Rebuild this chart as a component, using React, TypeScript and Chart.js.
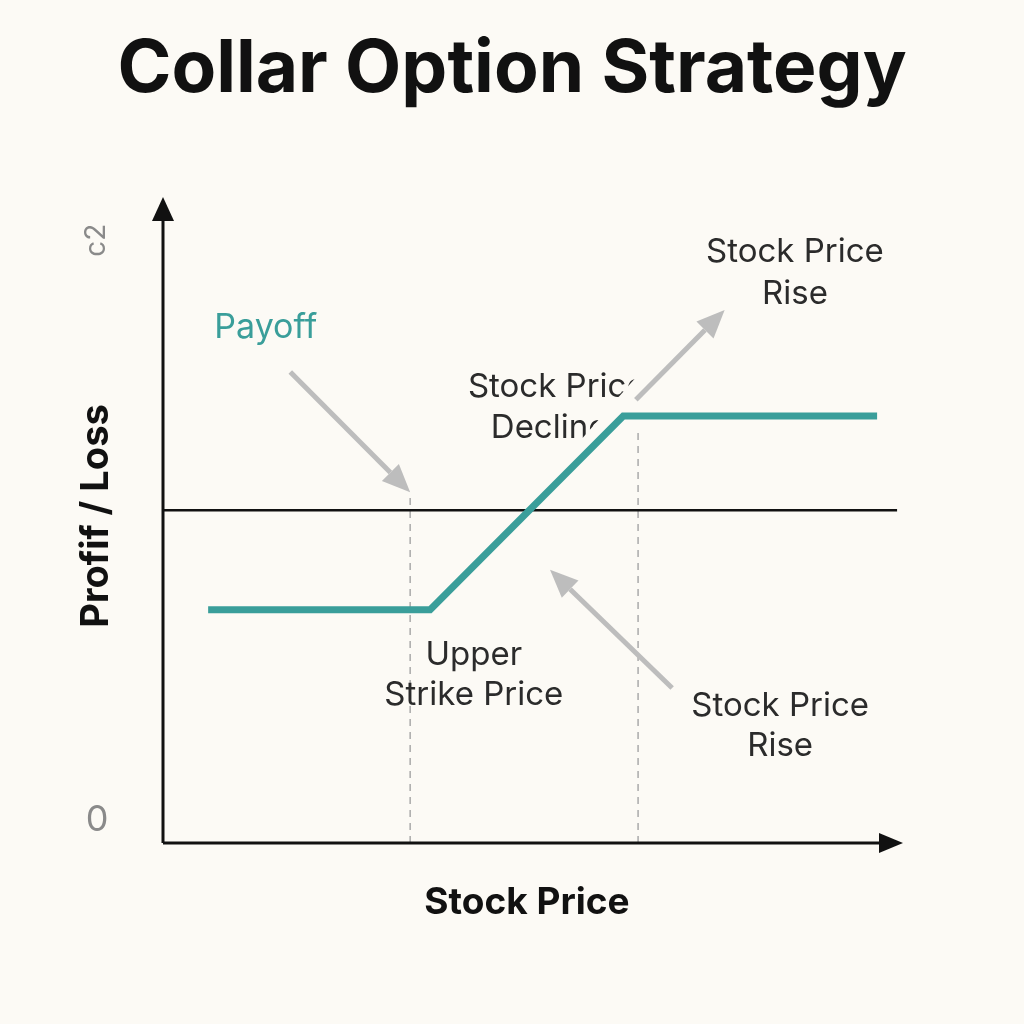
import React, { useEffect, useRef } from "react";
import { Chart, registerables } from "chart.js";

Chart.register(...registerables);

// Payoff profile (stock price units vs profit/loss units)
const payoffX = [6.1, 36.1, 62.2, 96.5];
const payoffY = [36.1, 36.1, 66.1, 66.1];
// Break-even reference line
const zeroLineX = [0, 99.2];
const zeroLineY = [51.5, 51.5];
// Strike markers (dashed verticals)
const lowerStrikeX = [33.4, 33.4];
const lowerStrikeY = [0, 53.9];
const upperStrikeX = [64.2, 64.2];
const upperStrikeY = [0, 63.9];
// Y tick labels
const yTickLabels = ["c2", "0"];
const yTickValues = [93.3, 3.5];

const TEAL = "#3a9e9a";
const GRAY_ARROW = "#bdbdbd";
const TEXT = "#2b2b2b";
const FONT = "Inter, 'Noto Sans', sans-serif";

const pts = (xs: number[], ys: number[]) => xs.map((x, i) => ({ x, y: ys[i] }));

export default function App() {
  const ref = useRef<HTMLCanvasElement | null>(null);
  useEffect(() => {
    if (!ref.current) return;
    const decor = {
      id: "decor",
      beforeDraw(chart: any) {
        const ctx = chart.ctx;
        ctx.save();
        ctx.fillStyle = "#fcfaf5";
        ctx.fillRect(0, 0, chart.width, chart.height);
        ctx.restore();
      },
      afterDatasetsDraw(chart: any) {
        const ctx = chart.ctx;
        const xs = chart.scales.x;
        const ys = chart.scales.y;
        const px = (v: number) => xs.getPixelForValue(v);
        const py = (v: number) => ys.getPixelForValue(v);
        const ca = chart.chartArea;
        ctx.save();
        // axes
        ctx.strokeStyle = "#111";
        ctx.fillStyle = "#111";
        ctx.lineWidth = 3;
        ctx.beginPath();
        ctx.moveTo(ca.left, ca.bottom);
        ctx.lineTo(ca.left, ca.top + 20);
        ctx.moveTo(ca.left, ca.bottom);
        ctx.lineTo(ca.right - 20, ca.bottom);
        ctx.stroke();
        ctx.beginPath();
        ctx.moveTo(ca.left, ca.top);
        ctx.lineTo(ca.left - 11, ca.top + 24);
        ctx.lineTo(ca.left + 11, ca.top + 24);
        ctx.closePath();
        ctx.fill();
        ctx.beginPath();
        ctx.moveTo(ca.right, ca.bottom);
        ctx.lineTo(ca.right - 24, ca.bottom - 10);
        ctx.lineTo(ca.right - 24, ca.bottom + 10);
        ctx.closePath();
        ctx.fill();

        // gray arrows
        const arrow = (x1: number, y1: number, x2: number, y2: number) => {
          const a = px(x1), b = py(y1), c = px(x2), d = py(y2);
          const ang = Math.atan2(d - b, c - a);
          const L = 28, W = 12;
          const bx = c - L * Math.cos(ang), by = d - L * Math.sin(ang);
          ctx.strokeStyle = GRAY_ARROW;
          ctx.fillStyle = GRAY_ARROW;
          ctx.lineWidth = 5;
          ctx.beginPath();
          ctx.moveTo(a, b);
          ctx.lineTo(bx, by);
          ctx.stroke();
          ctx.beginPath();
          ctx.moveTo(c, d);
          ctx.lineTo(bx + W * Math.sin(ang), by - W * Math.cos(ang));
          ctx.lineTo(bx - W * Math.sin(ang), by + W * Math.cos(ang));
          ctx.closePath();
          ctx.fill();
        };
        arrow(17.2, 72.9, 33.4, 54.3);
        arrow(63.9, 68.6, 75.9, 82.5);
        arrow(68.8, 24.0, 52.3, 42.3);

        // text annotations
        ctx.textBaseline = "middle";
        ctx.font = `34px ${FONT}`;
        ctx.fillStyle = TEAL;
        ctx.textAlign = "center";
        ctx.fillText("Payoff", px(13.9), py(79.7));
        ctx.font = `33px ${FONT}`;
        ctx.fillStyle = TEXT;
        ctx.fillText("Stock Price", px(85.4), py(91.5));
        ctx.fillText("Rise", px(85.4), py(85.0));
        ctx.fillText("Upper", px(42.0), py(29.1));
        ctx.fillText("Strike Price", px(42.0), py(22.9));
        ctx.fillText("Stock Price", px(83.4), py(21.2));
        ctx.fillText("Rise", px(83.4), py(15.0));
        // clipped "Stock Price / Decline"
        ctx.save();
        ctx.beginPath();
        ctx.moveTo(400, 350);
        ctx.lineTo(660, 350);
        ctx.lineTo(572, 450);
        ctx.lineTo(400, 450);
        ctx.closePath();
        ctx.clip();
        ctx.textAlign = "left";
        ctx.fillText("Stock Price", px(41.2), py(70.6));
        ctx.fillText("Decline", px(44.3), py(64.2));
        ctx.restore();

        // tick labels
        ctx.fillStyle = "#8a8a8a";
        ctx.textAlign = "center";
        yTickLabels.forEach((t, i) => {
          const y = py(yTickValues[i]);
          if (t === "0") {
            ctx.font = `36px ${FONT}`;
            ctx.fillText(t, 97, y);
          } else {
            ctx.save();
            ctx.translate(97, y);
            ctx.rotate(-Math.PI / 2);
            ctx.font = `28px ${FONT}`;
            ctx.fillText(t, 0, 0);
            ctx.restore();
          }
        });

        // title & axis titles
        ctx.fillStyle = "#111";
        ctx.font = `bold 73px ${FONT}`;
        ctx.fillText("Collar Option Strategy", 512, 70);
        ctx.font = `bold 37px ${FONT}`;
        ctx.fillText("Stock Price", 527, 903);
        ctx.save();
        ctx.translate(97, 516);
        ctx.rotate(-Math.PI / 2);
        ctx.font = `bold 38px ${FONT}`;
        ctx.fillText("Profif / Loss", 0, 0);
        ctx.restore();
        ctx.restore();
      },
    };

    const chart = new Chart(ref.current, {
      type: "line",
      data: {
        datasets: [
          {
            data: pts(payoffX, payoffY),
            borderColor: TEAL,
            borderWidth: 7,
            pointRadius: 0,
            order: 0,
          },
          {
            data: pts(zeroLineX, zeroLineY),
            borderColor: "#111",
            borderWidth: 2.5,
            pointRadius: 0,
            order: 2,
          },
          {
            data: pts(lowerStrikeX, lowerStrikeY),
            borderColor: "#aaaaaa",
            borderWidth: 1.5,
            borderDash: [7, 6],
            pointRadius: 0,
            order: 3,
          },
          {
            data: pts(upperStrikeX, upperStrikeY),
            borderColor: "#aaaaaa",
            borderWidth: 1.5,
            borderDash: [7, 6],
            pointRadius: 0,
            order: 3,
          },
        ],
      },
      options: {
        animation: false,
        responsive: false,
        layout: { padding: { left: 163, right: 121, top: 197, bottom: 181 } },
        plugins: { legend: { display: false }, tooltip: { enabled: false }, title: { display: false } },
        scales: {
          x: { type: "linear", min: 0, max: 100, display: false },
          y: { type: "linear", min: 0, max: 100, display: false },
        },
        elements: { line: { tension: 0, borderCapStyle: "butt" } },
      },
      plugins: [decor],
    });
    return () => chart.destroy();
  }, []);
  return (
    <div style={{ position: "fixed", left: 0, top: 0, width: 1024, height: 1024, background: "#fcfaf5" }}>
      <canvas ref={ref} width={1024} height={1024} style={{ width: 1024, height: 1024, display: "block" }} />
    </div>
  );
}
